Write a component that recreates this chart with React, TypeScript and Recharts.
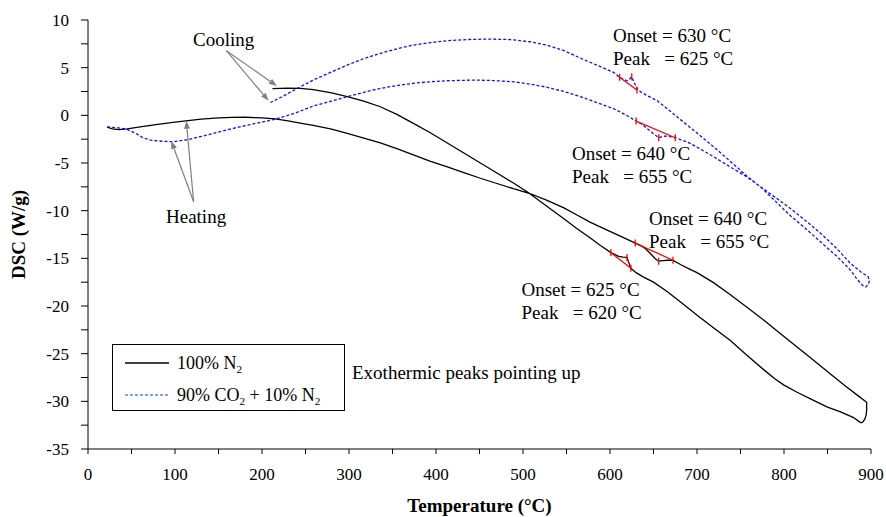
import React from "react";
import {
  ComposedChart,
  Line,
  Scatter,
  XAxis,
  YAxis,
  ReferenceLine,
  Label,
} from "recharts";

// DSC traces, [temperature °C, heat flow W/g], heating run then cooling run
const n2Heating = [
  [22, -1.23], [28, -1.42], [35, -1.5], [45, -1.42], [60, -1.2], [80, -0.95],
  [100, -0.72], [115, -0.55], [130, -0.4], [150, -0.27], [165, -0.21], [180, -0.2],
  [200, -0.27], [215, -0.38], [230, -0.58], [244, -0.82], [259, -1.05], [280, -1.45],
  [298, -1.9], [317, -2.4], [336, -2.9], [355, -3.5], [374, -4.15], [393, -4.8],
  [413, -5.4], [432, -6.0], [451, -6.6], [470, -7.15], [489, -7.7], [508, -8.2],
  [527, -8.9], [547, -9.7], [562, -10.45], [577, -11.2], [598, -12.1], [615, -12.8],
  [629, -13.4], [636, -13.7], [641, -14.0], [648, -14.65], [652, -15.05], [656, -15.3],
  [661, -15.25], [666, -15.2], [672, -15.2], [681, -15.65], [692, -16.15], [700, -16.5],
  [719, -17.55], [738, -18.8], [757, -20.1], [777, -21.5], [796, -22.9], [815, -24.3],
  [834, -25.7], [853, -27.1], [872, -28.5], [885, -29.4], [895, -30.1],
];

const n2Cooling = [
  [895, -30.9], [894.5, -31.4], [893, -31.85], [890.5, -32.2], [888.5, -32.25],
  [886, -32.1], [880, -31.7], [865, -31.1], [850, -30.6], [834, -29.9], [815, -29.05],
  [800, -28.3], [789, -27.6], [777, -26.7], [757, -25.15], [738, -23.6], [720, -22.35],
  [702, -21.1], [684, -19.8], [666, -18.5], [650, -17.5], [638, -16.95], [630, -16.5],
  [624, -16.05], [621.4, -15.4], [619.5, -14.9], [615, -14.87], [610, -14.8], [601, -14.4],
  [589, -13.65], [577, -12.85], [563, -11.95], [547, -10.85], [527, -9.5], [506, -8.1],
  [489, -7.1], [470, -6.05], [451, -5.0], [432, -3.95], [413, -2.9], [393, -1.8],
  [374, -0.85], [355, 0.1], [336, 0.9], [317, 1.5], [298, 1.95], [280, 2.35],
  [259, 2.7], [244, 2.83], [230, 2.86], [212, 2.8],
];

const co2Heating = [
  [22, -1.2], [35, -1.32], [45, -1.47], [55, -1.9], [63, -2.35], [72, -2.6],
  [85, -2.72], [98, -2.77], [115, -2.55], [129, -2.24], [148, -1.8], [167, -1.36],
  [190, -0.9], [215, -0.42], [240, 0.3], [259, 0.98], [280, 1.5], [298, 1.95],
  [317, 2.42], [336, 2.83], [355, 3.12], [374, 3.36], [393, 3.52], [413, 3.63],
  [443, 3.7], [465, 3.65], [489, 3.52], [508, 3.28], [528, 2.94], [547, 2.5],
  [566, 1.96], [589, 1.2], [604, 0.7], [618, 0.05], [630, -0.6], [636, -0.9],
  [642.5, -1.36], [649, -1.85], [656, -2.35], [661, -2.2], [665.5, -2.17], [670, -2.25],
  [675, -2.35], [683, -2.6], [692, -2.94], [705, -3.6], [719, -4.34], [738, -5.4],
  [757, -6.44], [767, -7.1], [787, -8.4], [807, -9.75], [827, -11.2], [846, -12.7],
  [862, -14.1], [876, -15.5], [888, -16.4], [897, -16.95], [898, -17.4], [897, -17.75],
  [894, -18.0],
];

const co2Cooling = [
  [891, -17.9], [884, -17.2], [876, -16.2], [862, -14.9], [846, -13.6], [827, -12.05],
  [807, -10.5], [790, -9.0], [773, -7.5], [757, -6.35], [738, -4.8], [719, -3.3],
  [700, -1.85], [681, -0.45], [667, 0.6], [654, 1.55], [643, 2.05], [632, 2.65],
  [628, 3.4], [625, 4.05], [622, 3.75], [619.5, 3.63], [615, 3.8], [611, 3.99],
  [604, 4.5], [589, 5.1], [566, 6.0], [547, 6.8], [528, 7.35], [508, 7.72],
  [485, 7.95], [459, 8.0], [436, 7.95], [413, 7.83], [393, 7.62], [374, 7.37],
  [355, 6.98], [336, 6.5], [317, 5.95], [298, 5.27], [280, 4.55], [259, 3.7],
  [240, 2.8], [221, 1.85], [209, 1.32],
];

// onset tangents: [onset point, end point], plus the peak on each trace
const co2CoolTangent = [[611, 3.99], [631, 2.65]];
const co2CoolPeak = [625, 4.05];
const co2HeatTangent = [[630, -0.6], [675, -2.35]];
const co2HeatPeak = [656, -2.35];
const n2HeatTangent = [[629, -13.4], [672.4, -15.2]];
const n2HeatPeak = [656, -15.3];
const n2CoolTangent = [[601, -14.4], [624, -16.05]];
const n2CoolPeak = [619.5, -14.9];

// arrows: [from, to]
const coolingArrows = [
  [[159, 6.78], [217.2, 3.08]],
  [[159, 6.78], [207.6, 1.53]],
];
const heatingArrows = [
  [[121.4, -9.06], [113, -0.57]],
  [[121.4, -9.06], [95.7, -2.7]],
];

const xTicks = Array.from({ length: 19 }, (_, i) => i * 50);
const yTicks = Array.from({ length: 19 }, (_, i) => -35 + i * 2.5);

const toPts = (rows: number[][]) => rows.map(([t, v]) => ({ t, v }));

const n2Loop = toPts([...n2Heating, ...n2Cooling]);
const co2Loop = toPts([...co2Heating, ...co2Cooling]);

const tangents = [co2CoolTangent, co2HeatTangent, n2HeatTangent, n2CoolTangent];
const peaks = [co2CoolPeak, co2HeatPeak, n2HeatPeak, n2CoolPeak];
const tickMarks = toPts([...tangents.flat(), ...peaks]);

const FONT = "'Liberation Serif', 'Times New Roman', serif";
const RED = "#ff0000";
const GREY = "#7f7f7f";

function Arrow(props: any) {
  const { x1, y1, x2, y2 } = props;
  const a = Math.atan2(y2 - y1, x2 - x1);
  const len = 8;
  const half = 3;
  const bx = x2 - len * Math.cos(a);
  const by = y2 - len * Math.sin(a);
  const px = -Math.sin(a) * half;
  const py = Math.cos(a) * half;
  return (
    <g>
      <line x1={x1} y1={y1} x2={bx} y2={by} stroke={GREY} strokeWidth={1.2} />
      <polygon
        points={`${x2},${y2} ${bx + px},${by + py} ${bx - px},${by - py}`}
        fill={GREY}
      />
    </g>
  );
}

function RedTick(props: any) {
  const { cx, cy } = props;
  return (
    <line x1={cx} y1={cy - 3.5} x2={cx} y2={cy + 3.5} stroke={RED} strokeWidth={1.3} />
  );
}

const notes = [
  { lines: ["Cooling"], left: 193, y: 39 },
  { lines: ["Heating"], left: 166, y: 216 },
  { lines: ["Onset = 630 °C", "Peak   = 625 °C"], left: 613, y: 35 },
  { lines: ["Onset = 640 °C", "Peak   = 655 °C"], left: 572, y: 152.5 },
  { lines: ["Onset = 640 °C", "Peak   = 655 °C"], left: 649, y: 218 },
  { lines: ["Onset = 625 °C", "Peak   = 620 °C"], left: 521.5, y: 289 },
  { lines: ["Exothermic peaks pointing up"], left: 352, y: 372 },
];

const Sub = ({ children }: { children: React.ReactNode }) => (
  <span style={{ fontSize: "0.62em", position: "relative", top: "0.32em" }}>{children}</span>
);

export default function App() {
  return (
    <div
      style={{
        position: "absolute",
        left: 0,
        top: 0,
        width: 886,
        height: 517,
        background: "#fff",
        fontFamily: FONT,
        color: "#000",
      }}
    >
      <style>{`.recharts-wrapper text { font-family: ${FONT}; }`}</style>
      <ComposedChart width={886} height={517} margin={{ top: 20, right: 15, bottom: 38, left: 0 }}>
        <XAxis
          type="number"
          dataKey="t"
          domain={[0, 900]}
          ticks={xTicks}
          interval={0}
          tickFormatter={(v: number) => (v % 100 === 0 ? String(v) : "")}
          height={30}
          tickSize={5}
          tickMargin={14}
          stroke="#000"
          tick={{ fill: "#000", fontSize: 17 }}
        >
          <Label
            value="Temperature (°C)"
            position="bottom"
            offset={20}
            style={{ fontSize: 19, fontWeight: "bold", fill: "#000" }}
          />
        </XAxis>
        <YAxis
          type="number"
          domain={[-35, 10]}
          ticks={yTicks}
          interval={0}
          tickFormatter={(v: number) => (v % 5 === 0 ? String(v) : "")}
          width={88}
          tickSize={7}
          tickMargin={12}
          stroke="#000"
          tick={{ fill: "#000", fontSize: 17 }}
        >
          <Label
            value="DSC (W/g)"
            angle={-90}
            position="insideLeft"
            offset={18}
            style={{ fontSize: 19, fontWeight: "bold", fill: "#000", textAnchor: "middle" }}
          />
        </YAxis>

        <Line
          data={n2Loop}
          dataKey="v"
          type="linear"
          stroke="#000"
          strokeWidth={1.3}
          dot={false}
          isAnimationActive={false}
        />
        <Line
          data={co2Loop}
          dataKey="v"
          type="linear"
          stroke="#1010ff"
          strokeWidth={1.3}
          strokeDasharray="3 2"
          dot={false}
          isAnimationActive={false}
        />

        {tangents.map((seg, i) => (
          <Line
            key={`tan-${i}`}
            data={toPts(seg)}
            dataKey="v"
            type="linear"
            stroke={RED}
            strokeWidth={1.3}
            dot={false}
            isAnimationActive={false}
          />
        ))}
        <Scatter data={tickMarks} dataKey="v" shape={RedTick} isAnimationActive={false} />

        {[...coolingArrows, ...heatingArrows].map(([from, to], i) => (
          <ReferenceLine
            key={`arrow-${i}`}
            segment={[
              { x: from[0], y: from[1] },
              { x: to[0], y: to[1] },
            ]}
            ifOverflow="visible"
            shape={Arrow}
          />
        ))}
      </ComposedChart>

      {notes.map((n, i) => (
        <div
          key={i}
          style={{
            position: "absolute",
            left: n.left,
            top: n.y - 11,
            fontSize: 19,
            lineHeight: "23px",
            whiteSpace: "pre",
          }}
        >
          {n.lines.map((l, j) => (
            <div key={j}>{l}</div>
          ))}
        </div>
      ))}

      <div
        style={{
          position: "absolute",
          left: 112,
          top: 344,
          width: 233,
          height: 67,
          boxSizing: "border-box",
          border: "1px solid #000",
          background: "#fff",
          fontSize: 18,
        }}
      >
        <svg width={60} height={65} style={{ position: "absolute", left: 0, top: 0 }}>
          <line x1={12} y1={18} x2={56} y2={18} stroke="#000" strokeWidth={1.3} />
          <line x1={12} y1={50} x2={56} y2={50} stroke="#4a86ff" strokeWidth={1.3} strokeDasharray="3 2" />
        </svg>
        <div style={{ position: "absolute", left: 64, top: 7, lineHeight: "22px", whiteSpace: "nowrap" }}>
          100% N<Sub>2</Sub>
        </div>
        <div style={{ position: "absolute", left: 64, top: 39, lineHeight: "22px", whiteSpace: "nowrap" }}>
          90% CO<Sub>2</Sub> + 10% N<Sub>2</Sub>
        </div>
      </div>
    </div>
  );
}
